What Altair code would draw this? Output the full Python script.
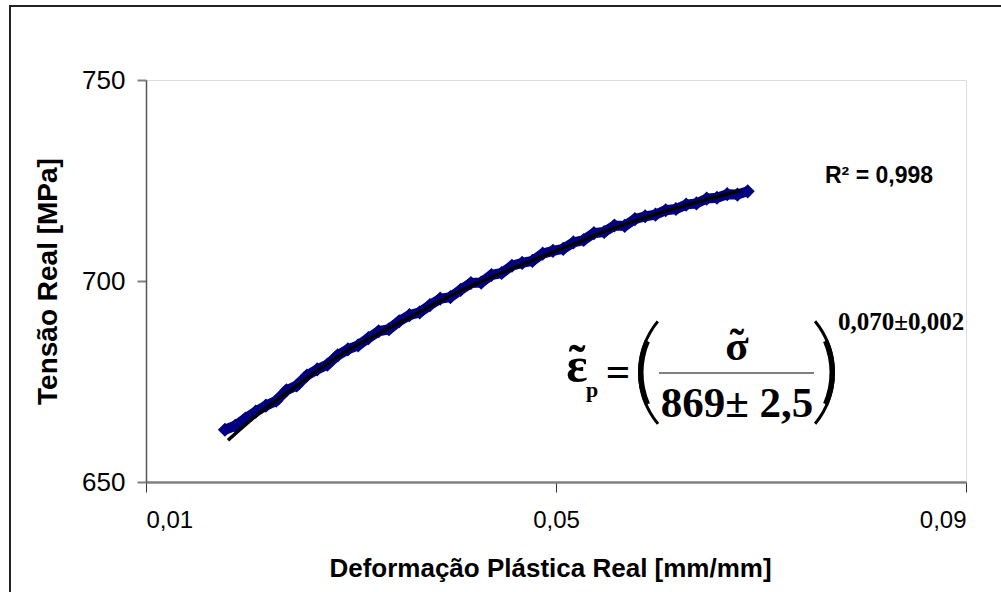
import altair as alt
import pandas as pd

# measured data (blue diamonds)
strain = [0.0177, 0.0187, 0.0197, 0.0207, 0.0217, 0.0227, 0.0237, 0.0247, 0.0257, 0.0267,
          0.0277, 0.0287, 0.0297, 0.0307, 0.0317, 0.0327, 0.0337, 0.0347, 0.0357, 0.0367,
          0.0377, 0.0387, 0.0397, 0.0407, 0.0417, 0.0427, 0.0437, 0.0447, 0.0457, 0.0467,
          0.0477, 0.0487, 0.0497, 0.0507, 0.0517, 0.0527, 0.0537, 0.0547, 0.0557, 0.0567,
          0.0577, 0.0587, 0.0597, 0.0607, 0.0617, 0.0627, 0.0637, 0.0647, 0.0657, 0.0667,
          0.0677, 0.0687]
stress = [663.0, 664.0, 665.8, 667.5, 669.0, 670.2, 672.8, 674.0, 676.5, 678.0,
          679.2, 681.5, 683.0, 684.0, 685.8, 687.5, 688.0, 690.0, 691.5, 692.2,
          694.0, 695.6, 696.0, 697.8, 699.5, 699.6, 701.5, 702.0, 703.8, 704.5,
          705.0, 706.8, 707.5, 708.0, 709.6, 710.2, 711.9, 712.2, 713.8, 713.7,
          715.4, 716.1, 716.5, 717.6, 717.9, 719.0, 719.3, 720.5, 720.7, 721.6,
          721.5, 722.3]

# fitted curve (black line)
fit_x = [0.0180, 0.0206, 0.0245, 0.0272, 0.0297, 0.0330, 0.0361, 0.0394, 0.0426,
         0.0458, 0.0497, 0.0517, 0.0550, 0.0582, 0.0614, 0.0647, 0.0680]
fit_y = [660.4, 666.2, 673.6, 678.6, 682.8, 687.3, 691.5, 696.0, 699.8,
         703.2, 707.2, 709.2, 712.6, 715.4, 717.9, 720.3, 722.5]

x_ticks = [0.01, 0.05, 0.09]
y_ticks = [650, 700, 750]

meas = pd.DataFrame({"x": strain, "y": stress})
fit = pd.DataFrame({"x": fit_x, "y": fit_y})
one = pd.DataFrame({"a": [0]})

W, H = 820, 402

xs = alt.Scale(domain=[0.01, 0.09], nice=False, zero=False)
ys = alt.Scale(domain=[650, 750], nice=False, zero=False)

x_axis = alt.Axis(
    values=x_ticks, grid=False,
    labelExpr="replace(format(datum.value, '.2f'), '.', ',')",
    labelFont="Liberation Sans", labelFontSize=24, labelColor="black",
    labelPadding=16, tickSize=10, tickColor="#333333", tickWidth=1,
    domainColor="#808080", domainWidth=2.5,
    title="Deformação Plástica Real [mm/mm]",
    titleFont="Liberation Sans", titleFontSize=26, titleFontWeight="bold",
    titleColor="black", titleX=404, titleY=86, titleBaseline="middle",
    titleAnchor="middle",
)
y_axis = alt.Axis(
    values=y_ticks, grid=False, format="d",
    labelFont="Liberation Sans", labelFontSize=26, labelColor="black",
    labelPadding=12, tickSize=9, tickColor="#808080", tickWidth=2,
    domainColor="#555555", domainWidth=1.5,
    title="Tensão Real [MPa]",
    titleFont="Liberation Sans", titleFontSize=28, titleFontWeight="bold",
    titleColor="black", titleX=-98, titleY=H / 2, titleBaseline="middle",
    titleAnchor="middle", titleAngle=-90,
)

pts_line = alt.Chart(meas).mark_line(color="#000080", strokeWidth=10).encode(
    x=alt.X("x:Q", scale=xs, axis=x_axis),
    y=alt.Y("y:Q", scale=ys, axis=y_axis),
)
pts = alt.Chart(meas).mark_point(
    shape="diamond", filled=True, color="#000080", size=200, opacity=1
).encode(x=alt.X("x:Q", scale=xs), y=alt.Y("y:Q", scale=ys))

fit_line = alt.Chart(fit).mark_line(
    color="black", strokeWidth=3.5, interpolate="monotone"
).encode(x=alt.X("x:Q", scale=xs), y=alt.Y("y:Q", scale=ys))

border = alt.Chart(one).mark_rect(
    fill="white", fillOpacity=0, stroke="#222222", strokeWidth=2
).encode(x=alt.value(-136), x2=alt.value(900), y=alt.value(-74), y2=alt.value(560))


def txt(s, x, y, size, font="Liberation Serif", weight="bold", align="center",
        baseline="alphabetic"):
    return alt.Chart(one).mark_text(
        text=s, font=font, fontSize=size, fontWeight=weight, align=align,
        baseline=baseline, color="black"
    ).encode(x=alt.value(x), y=alt.value(y))


def arc(cx, cy, r_out, r_in, t0, t1):
    return alt.Chart(one).mark_arc(color="black").encode(
        x=alt.value(cx), y=alt.value(cy),
        theta=alt.value(t0), theta2=alt.value(t1),
        radius=alt.value(r_out), radius2=alt.value(r_in),
    )


r2 = txt("R² = 0,998", 679, 103, 23, font="Liberation Sans", align="left")

eps = txt("ε", 431, 302, 50)
eps_t = txt("˜", 431, 300, 50)
sub_p = txt("p", 446, 317, 22)
eq = txt("=", 472, 306, 43)
sig = txt("σ", 591, 280, 43)
sig_t = txt("˜", 591, 278, 43)
den = txt("869± 2,5", 591, 337, 43)
expo = txt("0,070±0,002", 692, 250, 25, align="left")
bar = alt.Chart(one).mark_rule(color="#808080", strokeWidth=2).encode(
    x=alt.value(513), x2=alt.value(668), y=alt.value(293)
)

# large parentheses drawn as thin arcs, thicker in the middle
lpar1 = arc(574, 292.5, 82, 79, 4.02, 5.40)
lpar2 = arc(574, 292.5, 82, 76.5, 4.30, 5.12)
rpar1 = arc(607, 292.5, 82, 79, 0.88, 2.26)
rpar2 = arc(607, 292.5, 82, 76.5, 1.16, 1.98)

chart = alt.layer(
    border, pts_line, pts, fit_line, r2, eps, eps_t, sub_p, eq,
    lpar1, lpar2, rpar1, rpar2, sig, sig_t, den, expo, bar
).properties(
    width=W, height=H,
    autosize=alt.AutoSizeParams(type="none"),
    padding={"left": 146, "top": 80, "right": 35, "bottom": 110},
).configure_view(stroke=None).configure(background="white")

chart.save("out.html", embed_options={"renderer": "svg", "actions": False})
